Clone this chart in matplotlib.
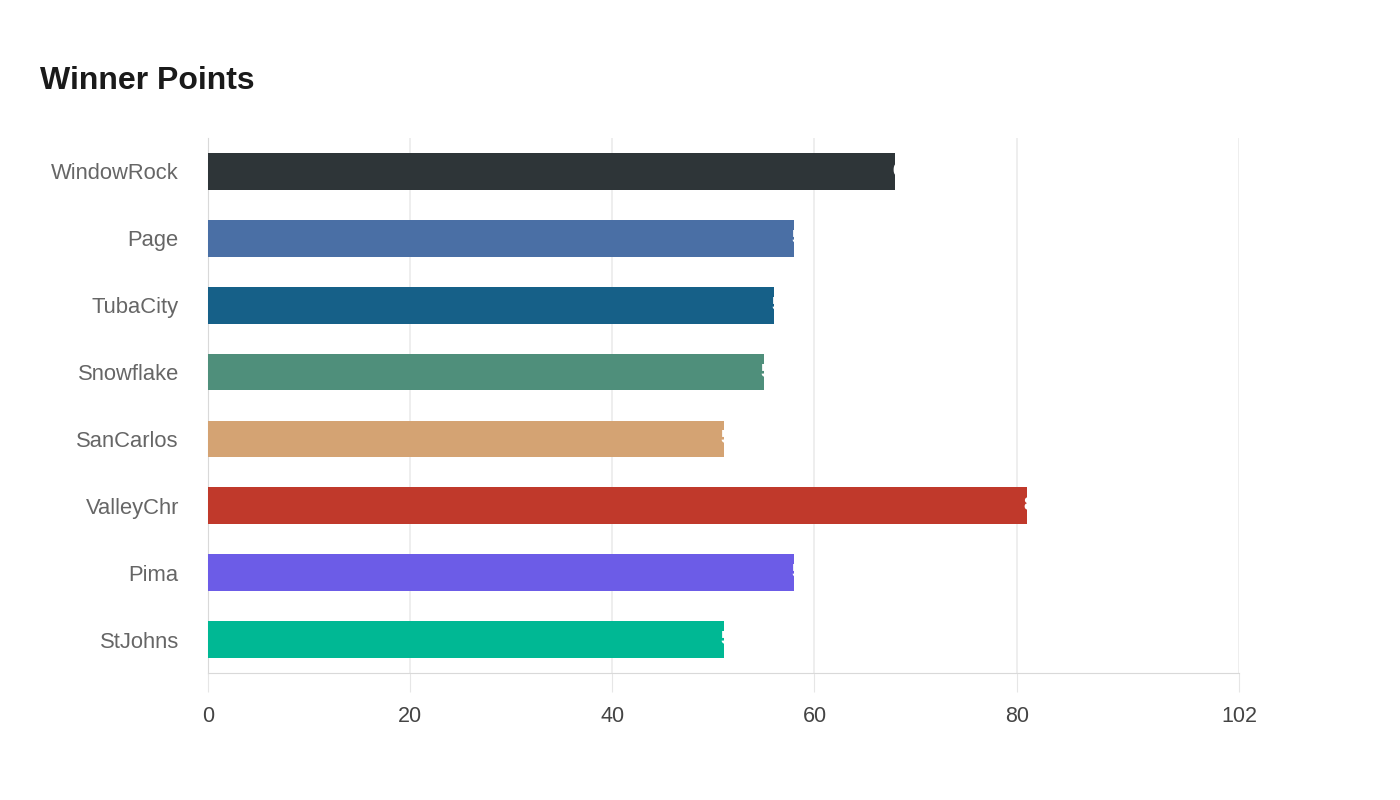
import matplotlib
matplotlib.use("Agg")
import matplotlib.pyplot as plt

plt.rcParams['font.family'] = ['Liberation Sans', 'DejaVu Sans']

teams = ["WindowRock", "Page", "TubaCity", "Snowflake", "SanCarlos", "ValleyChr", "Pima", "StJohns"]
points = [68, 58, 56, 55, 51, 81, 58, 51]
colors = ["#2e3538", "#4a6fa5", "#166088", "#4f8f7b", "#d4a373", "#c0392b", "#6c5ce7", "#00b894"]
xticks = [0, 20, 40, 60, 80, 102]

fig = plt.figure(figsize=(14, 8), dpi=100)
ax = fig.add_axes([208/1400, 1 - 673/800, (1239-208)/1400, (673-138)/800])

ypos = list(range(len(teams)))[::-1]
ax.barh(ypos, points, height=0.55, color=colors, zorder=3)
for y, v in zip(ypos, points):
    ax.text(v - 0.3, y, str(v), ha='left', va='center', color='white',
            fontsize=13, fontweight='bold', zorder=4, clip_on=True)

ax.set_xlim(0, 102)
ax.set_ylim(-0.5, len(teams) - 0.5)
ax.set_yticks(ypos)
ax.set_yticklabels(teams, fontsize=15.8, color='#666666')
ax.set_xticks(xticks)
ax.set_xticklabels([str(t) for t in xticks], fontsize=15.5, color='#444444')
ax.tick_params(axis='y', length=0, pad=21)
ax.tick_params(axis='x', length=14, color='#e6e6e6', pad=10)
ax.grid(axis='x', color='#ebebeb', linewidth=1.2, zorder=0)
ax.grid(axis='y', visible=False)
for s in ['top', 'right']:
    ax.spines[s].set_visible(False)
ax.spines['left'].set_color('#d9d9d9')
ax.spines['bottom'].set_color('#d9d9d9')

fig.text(40/1400, 1 - 81/800, "Winner Points", fontsize=23, fontweight='bold',
         color='#1a1a1a', ha='left', va='center')

fig.savefig("out.png", dpi=100, facecolor='white')
